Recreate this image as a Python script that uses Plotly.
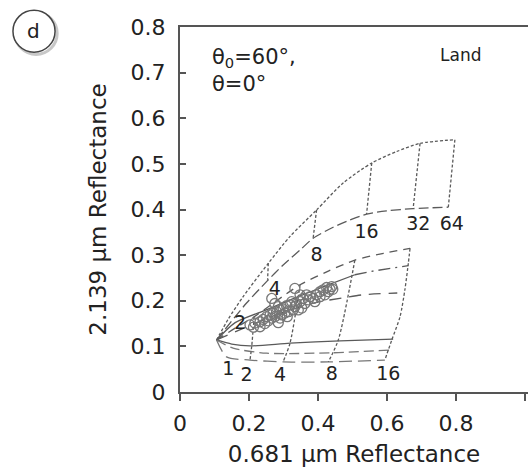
import plotly.graph_objects as go

# ---- look-up-table curves (0.681 um vs 2.139 um reflectance) ----
upper_outer_x = [0.106, 0.140, 0.183, 0.256, 0.319, 0.396, 0.473, 0.556, 0.628, 0.696, 0.797]
upper_outer_y = [0.114, 0.160, 0.209, 0.282, 0.341, 0.399, 0.458, 0.502, 0.527, 0.545, 0.553]

upper_inner_x = [0.106, 0.145, 0.193, 0.251, 0.300, 0.348, 0.386, 0.444, 0.493, 0.541, 0.599, 0.676, 0.778]
upper_inner_y = [0.114, 0.151, 0.195, 0.242, 0.279, 0.311, 0.337, 0.361, 0.377, 0.390, 0.397, 0.402, 0.405]

# constant optical-depth lines joining the two upper curves
upper_aot_x = [[0.256, 0.254], [0.396, 0.386], [0.556, 0.541], [0.696, 0.676], [0.797, 0.778]]
upper_aot_y = [[0.282, 0.246], [0.399, 0.337], [0.502, 0.390], [0.545, 0.402], [0.553, 0.405]]

mid_top_x = [0.106, 0.160, 0.215, 0.280, 0.348, 0.430, 0.507, 0.590, 0.667]
mid_top_y = [0.114, 0.140, 0.165, 0.200, 0.235, 0.265, 0.289, 0.304, 0.315]

mid_solid_x = [0.106, 0.160, 0.250, 0.330, 0.420, 0.507]
mid_solid_y = [0.114, 0.152, 0.180, 0.205, 0.232, 0.257]

mid_dashdot_x = [0.507, 0.551, 0.662]
mid_dashdot_y = [0.257, 0.264, 0.277]

mid_long_x = [0.106, 0.200, 0.300, 0.400, 0.470, 0.530, 0.630]
mid_long_y = [0.114, 0.145, 0.175, 0.197, 0.206, 0.213, 0.217]

low_solid_x = [0.106, 0.150, 0.203, 0.319, 0.464, 0.618]
low_solid_y = [0.114, 0.105, 0.101, 0.107, 0.112, 0.116]

low_dash_x = [0.106, 0.154, 0.251, 0.443, 0.609]
low_dash_y = [0.114, 0.096, 0.085, 0.086, 0.092]

low_long_x = [0.106, 0.135, 0.203, 0.299, 0.430, 0.594]
low_long_y = [0.114, 0.077, 0.070, 0.066, 0.066, 0.070]

lower_aot_x = [[0.215, 0.208, 0.203],
               [0.348, 0.319, 0.299],
               [0.507, 0.459, 0.430],
               [0.667, 0.662, 0.652, 0.638, 0.614, 0.594]]
lower_aot_y = [[0.165, 0.101, 0.070],
               [0.235, 0.107, 0.066],
               [0.289, 0.114, 0.066],
               [0.315, 0.282, 0.224, 0.165, 0.114, 0.070]]

# optical-depth labels
aot_text = ["2", "4", "8", "16", "32", "64", "1", "2", "4", "8", "16"]
aot_x = [0.174, 0.275, 0.396, 0.541, 0.691, 0.788, 0.140, 0.193, 0.290, 0.440, 0.604]
aot_y = [0.148, 0.224, 0.297, 0.348, 0.366, 0.366, 0.048, 0.035, 0.035, 0.037, 0.037]

# observed reflectances
obs_x = [0.203, 0.217, 0.232, 0.241, 0.251, 0.261, 0.266, 0.270, 0.280, 0.285,
         0.290, 0.299, 0.304, 0.309, 0.319, 0.324, 0.328, 0.338, 0.348, 0.353,
         0.357, 0.367, 0.377, 0.386, 0.391, 0.396, 0.406, 0.415, 0.420, 0.425,
         0.435, 0.440, 0.333, 0.266, 0.275, 0.246, 0.256, 0.275, 0.295, 0.314,
         0.333, 0.343, 0.362, 0.372, 0.406, 0.430, 0.443, 0.290, 0.311, 0.232,
         0.213, 0.348, 0.285]
obs_y = [0.147, 0.151, 0.154, 0.159, 0.165, 0.169, 0.162, 0.173, 0.176, 0.152,
         0.180, 0.182, 0.173, 0.189, 0.191, 0.198, 0.180, 0.193, 0.198, 0.184,
         0.205, 0.213, 0.209, 0.205, 0.198, 0.213, 0.220, 0.224, 0.213, 0.229,
         0.225, 0.231, 0.227, 0.205, 0.194, 0.150, 0.156, 0.165, 0.169, 0.176,
         0.187, 0.180, 0.194, 0.202, 0.209, 0.220, 0.225, 0.162, 0.165, 0.143,
         0.142, 0.213, 0.187]

x_ticks = [0, 0.2, 0.4, 0.6, 0.8, 1]
y_ticks = [0, 0.1, 0.2, 0.3, 0.4, 0.5, 0.6, 0.7, 0.8]

LINE = "#5a5a5a"
DOT = "3px,2px"
FONT = "DejaVu Sans"
TEXT = "#222"

fig = go.Figure()


def add_line(xs, ys, dash, shape="spline", width=1.3, color=LINE):
    fig.add_trace(go.Scatter(x=xs, y=ys, mode="lines", hoverinfo="skip",
                             line=dict(color=color, width=width, dash=dash,
                                       shape=shape, smoothing=0.7)))


add_line(upper_outer_x, upper_outer_y, DOT)
add_line(upper_inner_x, upper_inner_y, "10px,4px")
for xs, ys in zip(upper_aot_x, upper_aot_y):
    add_line(xs, ys, DOT, shape="linear")

add_line(mid_top_x, mid_top_y, "8px,6px")
add_line(mid_solid_x, mid_solid_y, "solid")
add_line(mid_dashdot_x, mid_dashdot_y, "12px,5px,2px,5px", shape="linear")
add_line(mid_long_x, mid_long_y, "12px,8px")

add_line(low_solid_x, low_solid_y, "solid")
add_line(low_dash_x, low_dash_y, "10px,5px", color="#777")
add_line(low_long_x, low_long_y, "13px,6px", color="#777")
for xs, ys in zip(lower_aot_x, lower_aot_y):
    add_line(xs, ys, DOT, shape="spline")

fig.add_trace(go.Scatter(x=obs_x, y=obs_y, mode="markers", hoverinfo="skip",
                         marker=dict(symbol="circle-open", size=10, color="#777",
                                     line=dict(width=1.3, color="#777"))))

fig.add_trace(go.Scatter(x=aot_x, y=aot_y, mode="text", text=aot_text,
                         hoverinfo="skip",
                         textfont=dict(family=FONT, size=19, color=TEXT)))

axis_common = dict(showgrid=False, zeroline=False, showline=True,
                   linecolor="#555", linewidth=2, tickcolor="#555",
                   tickwidth=1.5,
                   tickfont=dict(family=FONT, size=22, color=TEXT))

fig.update_xaxes(range=[0, 1.009], tickvals=x_ticks,
                 ticktext=[f"{v:g}" for v in x_ticks],
                 ticks="outside", ticklen=7, mirror=True, ticklabelstandoff=4,
                 title=dict(text="0.681 μm Reflectance",
                            font=dict(family=FONT, size=23, color=TEXT),
                            standoff=10),
                 **axis_common)
fig.update_yaxes(range=[0, 0.8], tickvals=y_ticks,
                 ticktext=[f"{v:g}" for v in y_ticks],
                 ticks="inside", ticklen=6, ticklabelstandoff=8,
                 title=dict(text="2.139 μm Reflectance",
                            font=dict(family=FONT, size=23, color=TEXT),
                            standoff=18),
                 **axis_common)

# panel badge "d"
fig.add_shape(type="circle", xref="paper", yref="paper",
              x0=-0.474, x1=-0.353, y0=0.925, y1=1.040,
              line=dict(color="#c8c8c8", width=3))
fig.add_shape(type="circle", xref="paper", yref="paper",
              x0=-0.480, x1=-0.359, y0=0.931, y1=1.046,
              line=dict(color="#444", width=1.5), fillcolor="white")
fig.add_annotation(xref="paper", yref="paper", x=-0.420, y=0.990,
                   xanchor="center", yanchor="middle",
                   text="d", showarrow=False,
                   font=dict(family=FONT, size=20, color=TEXT))

fig.add_annotation(xref="paper", yref="paper", x=0.086, y=0.955,
                   xanchor="left", yanchor="top", align="left",
                   text="θ<sub>0</sub>=60°,<br>θ=0°", showarrow=False,
                   font=dict(family=FONT, size=21, color=TEXT))
fig.add_annotation(xref="paper", yref="paper", x=0.805, y=0.923,
                   xanchor="center", yanchor="middle",
                   text="Land", showarrow=False,
                   font=dict(family=FONT, size=17, color=TEXT))

fig.update_layout(width=528, height=472, showlegend=False,
                  margin=dict(l=180, r=0, t=27, b=80),
                  plot_bgcolor="white", paper_bgcolor="white")

fig.write_html("out.html")
